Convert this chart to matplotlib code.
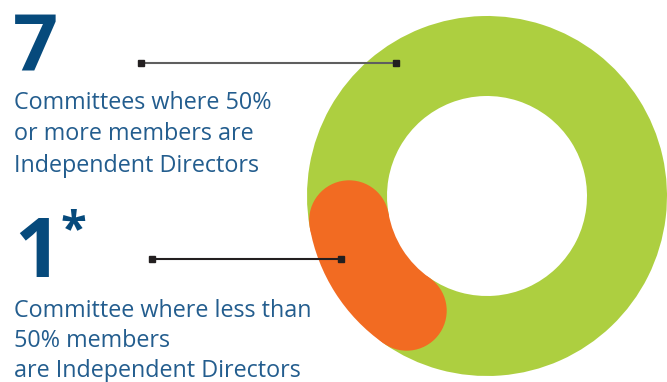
import matplotlib.pyplot as plt
from matplotlib.patches import Circle
import numpy as np

# data
counts = [1, 7]                     # less than 50% independent, 50% or more
ring_colors = ['#F26B22', '#ADCF40']
big_numbers = ['7', '1']
top_lines = ['Committees where 50%', 'or more members are', 'Independent Directors']
bottom_lines = ['Committee where less than', '50% members', 'are Independent Directors']

W, H = 667, 382
fig = plt.figure(figsize=(W / 100, H / 100), dpi=100)
ax = fig.add_axes([0, 0, 1, 1])

# donut (pixel coordinates, y up)
cx, cy = 487, H - 196
R, band = 180, 80
start = 190
wedges, _ = ax.pie(counts, radius=R, center=(cx, cy), startangle=start,
                   counterclock=True, colors=ring_colors,
                   wedgeprops=dict(width=band, linewidth=0))
wedges[1].set_zorder(1)
wedges[0].set_zorder(2)

# rounded ends of the orange segment
span = 360 * counts[0] / sum(counts)
rmid = R - band / 2
for a in (start, start + span):
    t = np.radians(a)
    ax.add_patch(Circle((cx + rmid * np.cos(t), cy + rmid * np.sin(t)), band / 2,
                        facecolor=ring_colors[0], linewidth=0, zorder=2))

ax.set_xlim(0, W)
ax.set_ylim(0, H)
ax.set_aspect('equal')
ax.axis('off')

# leader lines
ax.plot([141, 396], [H - 63, H - 63], color='#5f5f5f', lw=1.5, zorder=3)
ax.plot([141, 396], [H - 63, H - 63], ls='none', marker='s', ms=5, color='#231f20', zorder=4)
ax.plot([152, 341], [H - 259, H - 259], color='#231f20', lw=1.5, zorder=3)
ax.plot([152, 341], [H - 259, H - 259], ls='none', marker='s', ms=5, color='#231f20', zorder=4)

num_color = '#064A7C'
txt_color = '#235D8E'
font = ['Open Sans', 'DejaVu Sans']

ax.text(13, H - 69, big_numbers[0], fontsize=57, fontweight='bold', color=num_color,
        family=font, va='baseline', ha='left')
ax.text(14, H - 277, big_numbers[1], fontsize=59, fontweight='bold', color=num_color,
        family=font, va='baseline', ha='left')
ax.text(61, H - 244, '*', fontsize=34, fontweight='bold', color=num_color,
        family=font, va='baseline', ha='left')

for line, y in zip(top_lines, [109, 140, 172]):
    ax.text(14, H - y, line, fontsize=16.8, color=txt_color, family=font, va='baseline')
for line, y in zip(bottom_lines, [317, 347, 377]):
    ax.text(14, H - y, line, fontsize=16.8, color=txt_color, family=font, va='baseline')

fig.savefig('out.png', dpi=100)
